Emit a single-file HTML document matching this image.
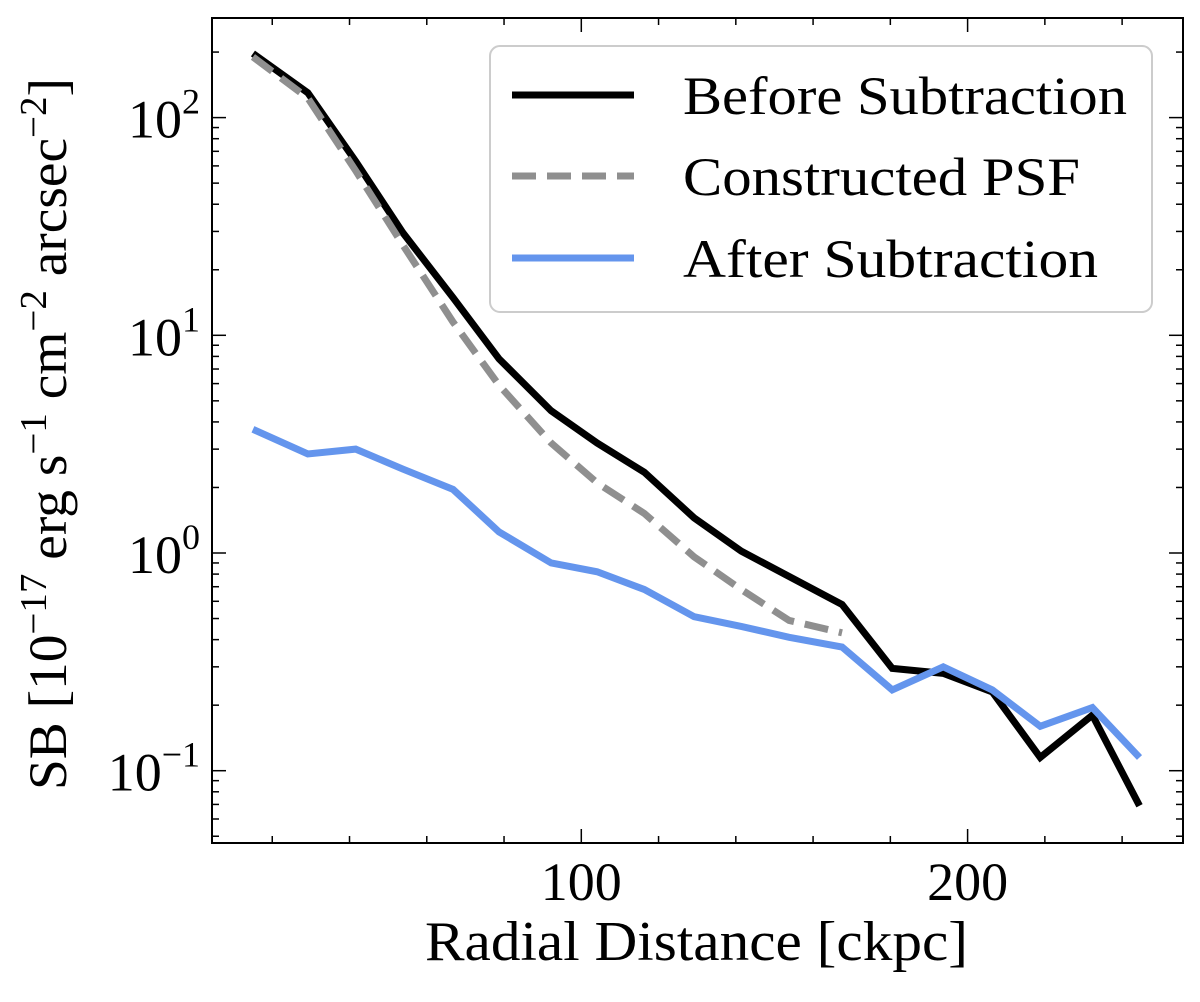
<!DOCTYPE html>
<html><head><meta charset="utf-8"><style>
body{margin:0;background:#fff;}
svg text{font-family:"Liberation Serif",serif;fill:#000;}
</style></head><body>
<svg id="chart" width="1200" height="997" xmlns="http://www.w3.org/2000/svg">
<g id="ticks"></g>
<g id="lines"></g>
<rect x="212" y="18" width="971" height="825" fill="none" stroke="#000" stroke-width="2"/>
<g>
<rect x="490" y="46" width="662" height="266" rx="10" fill="#fff" fill-opacity="0.8" stroke="#ccc" stroke-width="2"/>
<line x1="512" y1="95" x2="634" y2="95" stroke="#000" stroke-width="7"/>
<text x="683" y="114" font-size="54" textLength="444" lengthAdjust="spacingAndGlyphs">Before Subtraction</text>
<line x1="512" y1="176" x2="634" y2="176" stroke="#8f8f8f" stroke-width="7" stroke-dasharray="24,11"/>
<text x="683" y="195" font-size="54" textLength="397" lengthAdjust="spacingAndGlyphs">Constructed PSF</text>
<line x1="512" y1="258" x2="634" y2="258" stroke="#6495ed" stroke-width="7"/>
<text x="683" y="277" font-size="54" textLength="415" lengthAdjust="spacingAndGlyphs">After Subtraction</text>
</g>
<text x="425" y="960" font-size="56" textLength="543" lengthAdjust="spacingAndGlyphs">Radial Distance [ckpc]</text>
<text transform="translate(66,790) rotate(-90)" font-size="54" textLength="712" lengthAdjust="spacingAndGlyphs">SB [10<tspan dy="-20" font-size="38">−17</tspan><tspan dy="20"> erg s</tspan><tspan dy="-20" font-size="38">−1</tspan><tspan dy="20"> cm</tspan><tspan dy="-20" font-size="38">−2</tspan><tspan dy="20"> arcsec</tspan><tspan dy="-20" font-size="38">−2</tspan><tspan dy="20">]</tspan></text>
</svg>
<script>
const radius=[15,29.2,41.6,53.8,66.8,78.7,92.2,104.1,116.3,129.2,141.4,153.8,167.5,180.5,193.7,206.4,218.8,232.3,244.5];
const before=[197,130,63,29.6,14.9,7.8,4.5,3.2,2.35,1.45,1.02,0.78,0.58,0.295,0.28,0.23,0.115,0.18,0.069];
const psf=[190,123,57,26,11.5,5.9,3.2,2.1,1.52,0.96,0.68,0.49,0.43];
const after=[3.7,2.85,3.0,2.43,1.96,1.25,0.9,0.82,0.68,0.51,0.46,0.41,0.37,0.235,0.30,0.235,0.16,0.195,0.115];
const xTicks=[100,200];
const yDecades=[-1,0,1,2];
const NS="http://www.w3.org/2000/svg";
const L=212,R=1183,T=18,B=843;
const xs=v=>195+v*3.863;
const ys=v=>553-Math.log10(v)*217.7;
const tg=document.getElementById('ticks'),lg=document.getElementById('lines');
function ln(x1,y1,x2,y2,w){const e=document.createElementNS(NS,'line');e.setAttribute('x1',x1);e.setAttribute('y1',y1);e.setAttribute('x2',x2);e.setAttribute('y2',y2);e.setAttribute('stroke','#000');e.setAttribute('stroke-width',w);


tg.appendChild(e);}
for(let v=20;v<=260;v+=20){const x=xs(v);if(x<L||x>R)continue;const major=xTicks.includes(v);const l=major?14:7;ln(x,B,x,B-l,1.5);ln(x,T,x,T+l,1.5);
if(major){const t=document.createElementNS(NS,'text');t.setAttribute('x',x);t.setAttribute('y',B+57);t.setAttribute('font-size','54');t.setAttribute('text-anchor','middle');t.textContent=v;


tg.appendChild(t);}}
for(let d=-2;d<=2;d++){for(let m=1;m<10;m++){const v=m*Math.pow(10,d);const y=ys(v);if(y<T||y>B)continue;const l=m==1?14:7;ln(L,y,L+l,y,1.5);ln(R,y,R-l,y,1.5);
if(m==1&&yDecades.includes(d)){const t=document.createElementNS(NS,'text');t.setAttribute('x',L-12);t.setAttribute('y',y+20);t.setAttribute('font-size','54');t.setAttribute('text-anchor','end');
t.innerHTML='10<tspan dy="-24" font-size="36">'+(d<0?'−'+(-d):d)+'</tspan>';


tg.appendChild(t);}}}
function series(vals,color,dash,name){const p=document.createElementNS(NS,'polyline');p.setAttribute('points',vals.map((v,i)=>xs(radius[i])+','+ys(v)).join(' '));p.setAttribute('fill','none');p.setAttribute('stroke',color);p.setAttribute('stroke-width','7');if(dash)p.setAttribute('stroke-dasharray',dash);


lg.appendChild(p);}
series(before,'#000',null,'before-subtraction-line');
series(psf,'#8f8f8f','24,11','constructed-psf-line');
series(after,'#6495ed',null,'after-subtraction-line');
</script>
</body></html>
